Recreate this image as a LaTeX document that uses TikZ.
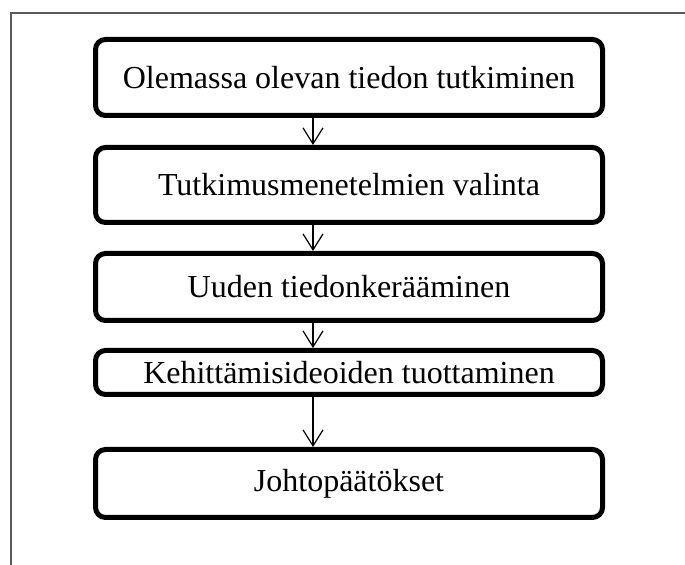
\documentclass[tikz,border=0pt]{standalone}
\usepackage{fontspec}
\setmainfont{Liberation Serif}
\usetikzlibrary{arrows.meta,positioning}
\tikzset{
  stage/.style={draw=black, line width=2.5pt, rounded corners=5pt, align=center, inner ysep=2pt, minimum width=253.5pt, font=\fontsize{16}{19}\selectfont},
  flowarrow/.style={-{Straight Barb[length=8pt,width=10pt]}, line width=0.6pt},
  frameline/.style={draw=black!65, line width=1pt}
}

\begin{document}
\begin{tikzpicture}[node distance=13pt]
\useasboundingbox (0,0) rectangle (342.5pt,-282.5pt);
\draw[frameline] (5.5pt,-282.5pt) |- (342.5pt,-6.5pt);
\node[stage, minimum height=38pt] (search) at (174.5pt,-38.75pt) {Olemassa olevan tiedon tutkiminen};
\node[stage, below=13.5pt of search, minimum height=37.5pt] (method) {Tutkimusmenetelmien valinta};
\node[stage, below=of method, minimum height=33.5pt] (collect) {Uuden tiedonkerääminen};
\node[stage, below=12.5pt of collect, minimum height=22pt] (ideas) {Kehittämisideoiden tuottaminen};
\node[stage, below=25pt of ideas, minimum height=34pt] (result) {Johtopäätökset};
\draw[flowarrow] ([xshift=-18pt]search.south) -- ([xshift=-18pt]method.north);
\draw[flowarrow] ([xshift=-18pt]method.south) -- ([xshift=-18pt]collect.north);
\draw[flowarrow] ([xshift=-18pt]collect.south) -- ([xshift=-18pt]ideas.north);
\draw[flowarrow] ([xshift=-18pt]ideas.south) -- ([xshift=-18pt]result.north);
\end{tikzpicture}
\end{document}
